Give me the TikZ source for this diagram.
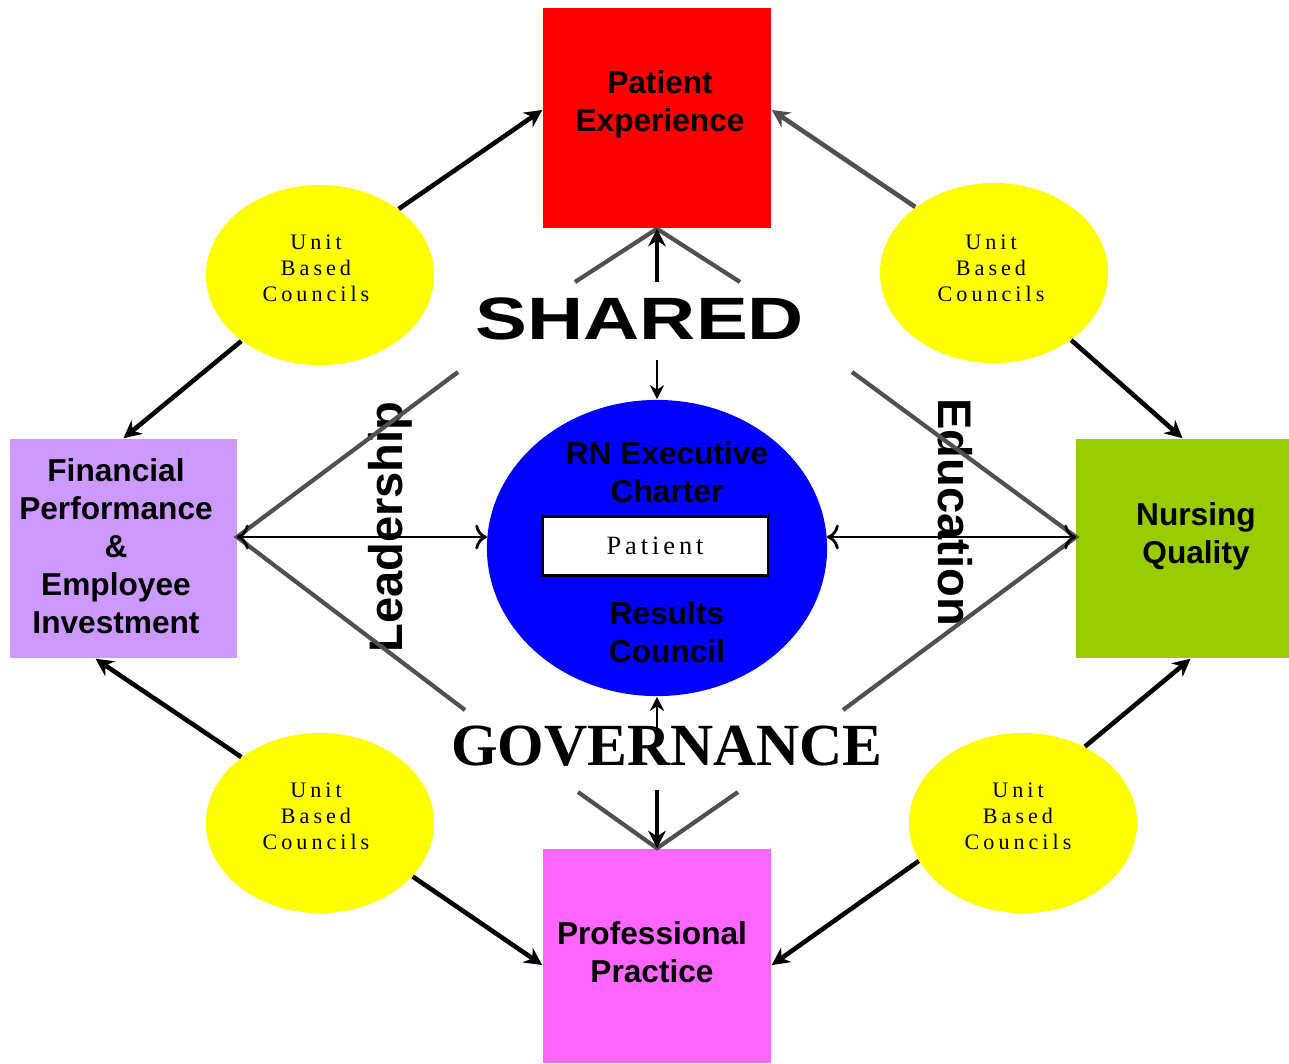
\documentclass[tikz,border=0pt]{standalone}
\usepackage{fontspec}
\setmainfont{Liberation Sans}
\newfontfamily\councilfont{Liberation Serif}
\usetikzlibrary{arrows.meta,shapes.geometric}

\definecolor{peRed}{HTML}{FF0000}
\definecolor{fpLilac}{HTML}{CC99FF}
\definecolor{nqGreen}{HTML}{99CC00}
\definecolor{ppPink}{HTML}{FF66FF}
\definecolor{rnBlue}{HTML}{0000FF}
\definecolor{ubcYellow}{HTML}{FFFF00}
\definecolor{fanGray}{HTML}{505050}

\tikzset{
  pillar/.style={rectangle, inner sep=0pt, align=center,
    font=\bfseries\fontsize{9}{10.8}\selectfont},
  council/.style={ellipse, fill=ubcYellow, inner sep=0pt,
    minimum width=2.28cm, minimum height=1.8cm},
  councilText/.style={inner sep=0pt, align=center,
    font=\councilfont\addfontfeatures{LetterSpace=18}\fontsize{6.3}{7.4}\selectfont},
  link/.style={line width=1.3pt, -{Stealth[length=5pt,width=5pt]}},
  thinlink/.style={line width=0.8pt, -{Stealth[length=4pt,width=4pt]}},
  fan/.style={fanGray, line width=1.2pt},
  bigword/.style={inner sep=0pt},
}

\begin{document}
\begin{tikzpicture}[x=0.01cm, y=-0.01cm]
    \useasboundingbox (0,0) rectangle (1289,1063);

    % the four outcome boxes
    \node[fill=peRed, minimum width=2.28cm, minimum height=2.2cm] (pe) at (657,118) {};
    \node[fill=fpLilac, minimum width=2.27cm, minimum height=2.19cm] (fp) at (123.5,548.5) {};
    \node[fill=nqGreen, minimum width=2.13cm, minimum height=2.19cm] (nq) at (1182.5,548.5) {};
    \node[fill=ppPink, minimum width=2.28cm, minimum height=2.14cm] (pp) at (657,956) {};
    \node[pillar] (peText) at (660,104) {Patient\\Experience};
    \node[pillar] (fpText) at (116,546) {Financial\\Performance\\\&\\Employee\\Investment};
    \node[pillar] (nqText) at (1196,536) {Nursing\\Quality};
    \node[pillar] (ppText) at (652,952) {Professional\\Practice};

    % central council
    \node[ellipse, fill=rnBlue, minimum width=3.4cm, minimum height=2.96cm] (rn) at (657,548) {};
    \node[pillar] (rnTop) at (667,472) {RN Executive\\Charter};
    \node[pillar] (rnBot) at (667,632) {Results\\Council};
    \node[draw=black, line width=0.6pt, fill=white, minimum width=2.25cm, minimum height=0.59cm, inner sep=0pt,
      font=\councilfont\addfontfeatures{LetterSpace=15}\fontsize{7.5}{8}\selectfont] (pat) at (655,546) {Patient};

    % unit councils
    \node[council] (ubcTL) at (320,275) {};
    \node[council] (ubcTR) at (994,273) {};
    \node[council] (ubcBL) at (320,823) {};
    \node[council] (ubcBR) at (1023,823) {};
    \node[councilText] (ubcTLText) at (316,268) {Unit\\Based\\Councils};
    \node[councilText] (ubcTRText) at (991,268) {Unit\\Based\\Councils};
    \node[councilText] (ubcBLText) at (316,816) {Unit\\Based\\Councils};
    \node[councilText] (ubcBRText) at (1018,816) {Unit\\Based\\Councils};

    % words round the middle
    \node[bigword, xscale=1.3, font=\bfseries\fontsize{17}{17}\selectfont] (shared) at (640,319) {SHARED};
    \node[bigword, font=\councilfont\bfseries\fontsize{17}{17}\selectfont] (gov) at (667,746) {GOVERNANCE};
    \node[bigword, rotate=90, font=\bfseries\fontsize{13.4}{14}\selectfont] (lead) at (390,527) {Leadership};
    \node[bigword, rotate=-90, font=\bfseries\fontsize{13.4}{14}\selectfont] (edu) at (955,512) {Education};

    % fan points
    \coordinate (fpR) at (237,537);
    \coordinate (nqL) at (1076,537);
    \coordinate (rnL) at (487,537);
    \coordinate (rnR) at (827,537);
    \coordinate (peFanL) at (575,282);
    \coordinate (peFanR) at (740,282);
    \coordinate (ppFanL) at (578,792);
    \coordinate (ppFanR) at (738,792);
    \coordinate (fpFanT) at (458,372);
    \coordinate (fpFanB) at (465,710);
    \coordinate (nqFanT) at (852,372);
    \coordinate (nqFanB) at (843,710);
    \coordinate (sharedUp) at (657,282);
    \coordinate (sharedDown) at (657,360);
    \coordinate (govUp) at (657,733);
    \coordinate (govDown) at (657,790);

    % gray fans
    \draw[fan] (peFanL) -- (pe.south) -- (peFanR);
    \draw[fan] (ppFanL) -- (pp.north) -- (ppFanR);
    \draw[fan] (fpFanT) -- (fpR) -- (fpFanB);
    \draw[fan] (nqFanT) -- (nqL) -- (nqFanB);

    % council arrows
    \draw[link] (ubcTL.40) -- ([yshift=0.08cm]pe.west);
    \draw[link] (ubcTL.220) -- (fp.north);
    \draw[link, fanGray] (ubcTR.140) -- ([yshift=0.08cm]pe.east);
    \draw[link] (ubcTR.319) -- (nq.north);
    \draw[link] (ubcBL.140) -- ([xshift=-0.28cm]fp.south);
    \draw[link] (ubcBL.-30) -- ([yshift=-0.09cm]pp.west);
    \draw[link] (ubcBR.51) -- ([xshift=0.08cm]nq.south);
    \draw[link] (ubcBR.200) -- ([yshift=-0.09cm]pp.east);

    % middle arrows
    \draw[thinlink, <->] (fpR) -- (rnL);
    \draw[thinlink, <->] (rnR) -- (nqL);
    \draw[link] (sharedUp) -- (pe.south);
    \draw[thinlink] (sharedDown) -- (rn.north);
    \draw[thinlink] (govUp) -- (rn.south);
    \draw[link] (govDown) -- (pp.north);
\end{tikzpicture}
\end{document}
